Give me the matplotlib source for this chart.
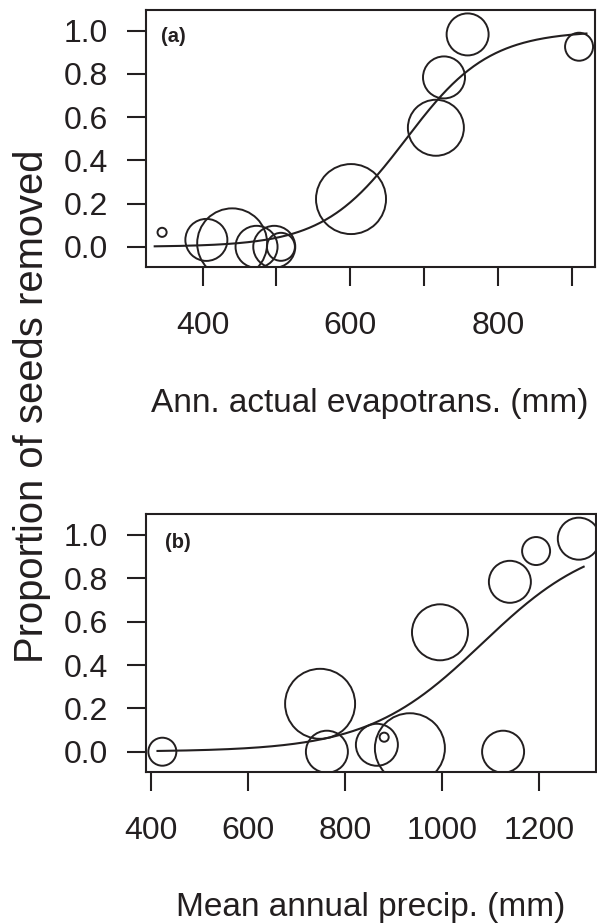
import matplotlib
matplotlib.use("Agg")
import matplotlib.pyplot as plt
import numpy as np

plt.rcParams['font.family'] = ['Liberation Sans', 'DejaVu Sans']

# ---- data (one entry per site) ----
removed = [0.067, 0.926, 0.0, 0.784, 0.983, 0.032, 0.0, 0.0, 0.551, 0.221, 0.016]
aet     = [345, 910, 506, 727, 759, 405, 473, 497, 716, 601, 440]
precip  = [881, 1194, 424, 1140, 1282, 866, 763, 1126, 996, 749, 934]
weight  = [0.65, 2, 2, 3, 3, 3, 3, 3, 4, 5, 5]

# fitted logistic curves (intercept, slope)
fit_aet = (-12.03, 0.0178)
fit_precip = (-9.147, 0.008445)

aet_ticks = [400, 500, 600, 700, 800, 900]
aet_ticklabels = ['400', '', '600', '', '800', '']
precip_ticks = [400, 600, 800, 1000, 1200]
precip_ticklabels = ['400', '600', '800', '1000', '1200']
y_ticks = [0.0, 0.2, 0.4, 0.6, 0.8, 1.0]
y_ticklabels = ['0.0', '0.2', '0.4', '0.6', '0.8', '1.0']

ink = '#231f20'
W, H = 597, 923
fig = plt.figure(figsize=(W / 100, H / 100), dpi=100)

ax1 = fig.add_axes([145.7 / W, 1 - 266.7 / H, 449.3 / W, 256.7 / H])
ax2 = fig.add_axes([145.7 / W, 1 - 772.3 / H, 450.0 / W, 258.0 / H])

px_per_unit = 7.0
sizes = (2 * px_per_unit * np.array(weight) * 0.72) ** 2


def panel(ax, x, fit, xlim, ylim, ticks, ticklabels, tag, tag_xy):
    x = np.array(x, dtype=float)
    xs = np.linspace(x.min() - 10, x.max() + 10, 400)
    ys = 1.0 / (1.0 + np.exp(-(fit[0] + fit[1] * xs)))
    ax.plot(xs, ys, color=ink, lw=1.5, zorder=2)
    ax.scatter(x, removed, s=sizes, facecolors='none', edgecolors=ink,
               linewidths=1.4, zorder=3)
    ax.set_xlim(*xlim)
    ax.set_ylim(*ylim)
    ax.set_xticks(ticks)
    ax.set_xticklabels(ticklabels)
    ax.set_yticks(y_ticks)
    ax.set_yticklabels(y_ticklabels)
    for sp in ax.spines.values():
        sp.set_linewidth(1.5)
        sp.set_color(ink)
    ax.tick_params(axis='both', direction='out', length=13.7, width=1.5,
                   color=ink, labelcolor=ink, labelsize=23)
    ax.tick_params(axis='x', pad=18.0)
    ax.tick_params(axis='y', pad=13.5)
    ax.text(tag_xy[0], tag_xy[1], tag, transform=ax.transAxes,
            fontsize=14.5, fontweight='bold', color=ink, ha='left', va='center')


panel(ax1, aet, fit_aet, (322.8, 931.6), (-0.092, 1.096),
      aet_ticks, aet_ticklabels, '(a)', (0.035, 0.895))
panel(ax2, precip, fit_precip, (389.7, 1316.8), (-0.095, 1.0955),
      precip_ticks, precip_ticklabels, '(b)', (0.042, 0.892))

fig.text(370 / W, 1 - 411.7 / H, 'Ann. actual evapotrans. (mm)',
         ha='center', va='baseline', fontsize=24, color=ink)
fig.text(371 / W, 1 - 916 / H, 'Mean annual precip. (mm)',
         ha='center', va='baseline', fontsize=24, color=ink)
fig.text(32 / W, 1 - 406.5 / H, 'Proportion of seeds removed',
         rotation=90, ha='center', va='center', fontsize=28.8, color=ink)

fig.savefig('out.png', dpi=100)
